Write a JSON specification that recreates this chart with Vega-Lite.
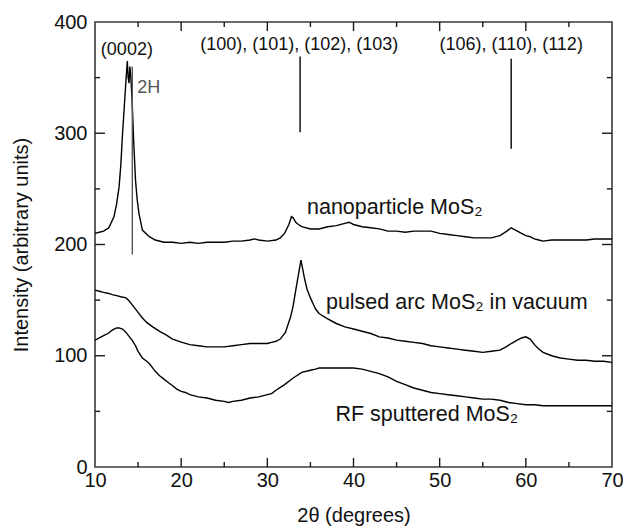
{
  "$schema": "https://vega.github.io/schema/vega-lite/v6.json",
  "width": 517,
  "height": 445,
  "autosize": {"type": "none"},
  "padding": {"left": 95, "top": 22, "right": 11, "bottom": 61},
  "config": {
    "font": "Liberation Sans",
    "view": {"stroke": "#3a3a3a", "strokeWidth": 1.6},
    "axis": {
      "grid": false,
      "domain": false,
      "ticks": false,
      "labelFontSize": 20,
      "labelColor": "#111",
      "titleFontSize": 20,
      "titleFontWeight": "normal",
      "titleColor": "#111",
      "labelFont": "Liberation Sans",
      "titleFont": "Liberation Sans"
    }
  },
  "datasets": {
    "curves": [
      {"s":"N","t":10,"I":210},{"s":"N","t":10.5,"I":211},{"s":"N","t":11,"I":212},{"s":"N","t":11.6,"I":215},{"s":"N","t":12.2,"I":225},{"s":"N","t":12.5,"I":236},{"s":"N","t":12.8,"I":252},{"s":"N","t":13.0,"I":272},{"s":"N","t":13.2,"I":300},{"s":"N","t":13.4,"I":324},{"s":"N","t":13.6,"I":348},{"s":"N","t":13.75,"I":365},{"s":"N","t":13.85,"I":350},{"s":"N","t":13.95,"I":345},{"s":"N","t":14.05,"I":360},{"s":"N","t":14.15,"I":352},{"s":"N","t":14.3,"I":330},{"s":"N","t":14.5,"I":291},{"s":"N","t":14.7,"I":258},{"s":"N","t":14.9,"I":240},{"s":"N","t":15.1,"I":228},{"s":"N","t":15.5,"I":213},{"s":"N","t":16.3,"I":207},{"s":"N","t":17,"I":204},{"s":"N","t":18,"I":202},{"s":"N","t":19,"I":202},{"s":"N","t":20,"I":201},{"s":"N","t":21,"I":202},{"s":"N","t":22,"I":201},{"s":"N","t":23,"I":202},{"s":"N","t":24,"I":202},{"s":"N","t":25,"I":202},{"s":"N","t":26,"I":203},{"s":"N","t":27,"I":203},{"s":"N","t":28,"I":204},{"s":"N","t":28.5,"I":205},{"s":"N","t":29,"I":204},{"s":"N","t":30,"I":203},{"s":"N","t":31,"I":204},{"s":"N","t":31.5,"I":206},{"s":"N","t":32,"I":210},{"s":"N","t":32.5,"I":218},{"s":"N","t":32.8,"I":225},{"s":"N","t":33.0,"I":224},{"s":"N","t":33.3,"I":220},{"s":"N","t":33.6,"I":218},{"s":"N","t":34,"I":216},{"s":"N","t":35,"I":214},{"s":"N","t":36,"I":214},{"s":"N","t":37,"I":216},{"s":"N","t":38,"I":217},{"s":"N","t":39,"I":219},{"s":"N","t":39.5,"I":220},{"s":"N","t":40,"I":218},{"s":"N","t":41,"I":216},{"s":"N","t":42,"I":215},{"s":"N","t":43,"I":214},{"s":"N","t":44,"I":212},{"s":"N","t":45,"I":212},{"s":"N","t":46,"I":211},{"s":"N","t":47,"I":212},{"s":"N","t":48,"I":212},{"s":"N","t":49,"I":212},{"s":"N","t":50,"I":210},{"s":"N","t":51,"I":209},{"s":"N","t":52,"I":208},{"s":"N","t":53,"I":207},{"s":"N","t":54,"I":206},{"s":"N","t":55,"I":206},{"s":"N","t":56,"I":206},{"s":"N","t":57,"I":208},{"s":"N","t":57.8,"I":212},{"s":"N","t":58.3,"I":215},{"s":"N","t":58.8,"I":213},{"s":"N","t":59.5,"I":210},{"s":"N","t":60,"I":208},{"s":"N","t":60.5,"I":207},{"s":"N","t":61,"I":205},{"s":"N","t":61.5,"I":204},{"s":"N","t":62,"I":203},{"s":"N","t":63,"I":204},{"s":"N","t":64,"I":204},{"s":"N","t":65,"I":204},{"s":"N","t":66,"I":204},{"s":"N","t":67,"I":204},{"s":"N","t":68,"I":205},{"s":"N","t":69,"I":205},{"s":"N","t":70,"I":205},
      {"s":"P","t":10,"I":159},{"s":"P","t":10.5,"I":158},{"s":"P","t":11,"I":157},{"s":"P","t":11.6,"I":156},{"s":"P","t":12,"I":155},{"s":"P","t":12.5,"I":154},{"s":"P","t":13,"I":153},{"s":"P","t":13.6,"I":152},{"s":"P","t":14,"I":149},{"s":"P","t":14.3,"I":146},{"s":"P","t":15,"I":139},{"s":"P","t":15.5,"I":134},{"s":"P","t":16,"I":130},{"s":"P","t":16.7,"I":126},{"s":"P","t":17.5,"I":122},{"s":"P","t":18.2,"I":119},{"s":"P","t":19,"I":115},{"s":"P","t":20.1,"I":112},{"s":"P","t":21,"I":110},{"s":"P","t":22,"I":109},{"s":"P","t":23,"I":108},{"s":"P","t":24,"I":108},{"s":"P","t":25,"I":108},{"s":"P","t":26,"I":109},{"s":"P","t":27,"I":110},{"s":"P","t":28,"I":111},{"s":"P","t":29,"I":111},{"s":"P","t":30,"I":111},{"s":"P","t":30.5,"I":112},{"s":"P","t":31,"I":113},{"s":"P","t":31.5,"I":115},{"s":"P","t":32.1,"I":121},{"s":"P","t":32.7,"I":135},{"s":"P","t":33.0,"I":145},{"s":"P","t":33.3,"I":159},{"s":"P","t":33.5,"I":168},{"s":"P","t":33.7,"I":177},{"s":"P","t":33.9,"I":186},{"s":"P","t":34.1,"I":178},{"s":"P","t":34.3,"I":170},{"s":"P","t":34.6,"I":160},{"s":"P","t":35,"I":152},{"s":"P","t":35.3,"I":147},{"s":"P","t":35.6,"I":142},{"s":"P","t":36,"I":138},{"s":"P","t":36.8,"I":134},{"s":"P","t":38,"I":129},{"s":"P","t":39,"I":126},{"s":"P","t":40,"I":124},{"s":"P","t":41,"I":122},{"s":"P","t":42,"I":120},{"s":"P","t":43,"I":117},{"s":"P","t":44,"I":116},{"s":"P","t":45,"I":114},{"s":"P","t":46,"I":113},{"s":"P","t":47,"I":112},{"s":"P","t":48,"I":111},{"s":"P","t":49,"I":109},{"s":"P","t":50,"I":108},{"s":"P","t":51,"I":107},{"s":"P","t":52,"I":106},{"s":"P","t":53,"I":105},{"s":"P","t":54,"I":104},{"s":"P","t":55,"I":103},{"s":"P","t":56,"I":104},{"s":"P","t":57,"I":105},{"s":"P","t":57.7,"I":108},{"s":"P","t":58.3,"I":111},{"s":"P","t":59,"I":114},{"s":"P","t":59.5,"I":116},{"s":"P","t":60,"I":117},{"s":"P","t":60.5,"I":115},{"s":"P","t":61,"I":110},{"s":"P","t":61.5,"I":106},{"s":"P","t":62,"I":103},{"s":"P","t":63,"I":100},{"s":"P","t":64,"I":98},{"s":"P","t":65,"I":97},{"s":"P","t":66,"I":96},{"s":"P","t":67,"I":96},{"s":"P","t":68,"I":95},{"s":"P","t":69,"I":95},{"s":"P","t":70,"I":94},
      {"s":"R","t":10,"I":114},{"s":"R","t":10.5,"I":116},{"s":"R","t":11,"I":118},{"s":"R","t":11.5,"I":120},{"s":"R","t":12,"I":123},{"s":"R","t":12.5,"I":125},{"s":"R","t":12.8,"I":125},{"s":"R","t":13.2,"I":124},{"s":"R","t":13.6,"I":121},{"s":"R","t":14,"I":117},{"s":"R","t":14.3,"I":114},{"s":"R","t":14.7,"I":109},{"s":"R","t":15,"I":104},{"s":"R","t":15.5,"I":98},{"s":"R","t":16,"I":95},{"s":"R","t":16.3,"I":93},{"s":"R","t":17,"I":86},{"s":"R","t":17.5,"I":82},{"s":"R","t":18,"I":79},{"s":"R","t":18.5,"I":76},{"s":"R","t":19,"I":73},{"s":"R","t":19.5,"I":70},{"s":"R","t":20,"I":68},{"s":"R","t":20.5,"I":67},{"s":"R","t":21,"I":65},{"s":"R","t":22,"I":63},{"s":"R","t":23,"I":62},{"s":"R","t":24,"I":60},{"s":"R","t":25,"I":59},{"s":"R","t":25.5,"I":58},{"s":"R","t":26,"I":59},{"s":"R","t":27,"I":60},{"s":"R","t":28,"I":62},{"s":"R","t":29,"I":63},{"s":"R","t":30,"I":65},{"s":"R","t":30.5,"I":66},{"s":"R","t":31,"I":69},{"s":"R","t":32,"I":74},{"s":"R","t":33,"I":80},{"s":"R","t":34,"I":85},{"s":"R","t":35,"I":87},{"s":"R","t":35.6,"I":88},{"s":"R","t":36,"I":89},{"s":"R","t":37,"I":89},{"s":"R","t":38,"I":89},{"s":"R","t":39,"I":89},{"s":"R","t":40,"I":89},{"s":"R","t":41,"I":88},{"s":"R","t":42,"I":86},{"s":"R","t":43,"I":84},{"s":"R","t":44,"I":81},{"s":"R","t":45,"I":77},{"s":"R","t":46,"I":74},{"s":"R","t":47,"I":71},{"s":"R","t":48,"I":69},{"s":"R","t":49,"I":67},{"s":"R","t":50,"I":66},{"s":"R","t":51,"I":65},{"s":"R","t":52,"I":64},{"s":"R","t":53,"I":63},{"s":"R","t":54,"I":62},{"s":"R","t":55,"I":61},{"s":"R","t":56,"I":61},{"s":"R","t":57,"I":60},{"s":"R","t":58,"I":58},{"s":"R","t":59,"I":57},{"s":"R","t":60,"I":56},{"s":"R","t":61,"I":56},{"s":"R","t":62,"I":55},{"s":"R","t":63,"I":55},{"s":"R","t":64,"I":55},{"s":"R","t":65,"I":55},{"s":"R","t":66,"I":55},{"s":"R","t":67,"I":55},{"s":"R","t":68,"I":55},{"s":"R","t":69,"I":55},{"s":"R","t":70,"I":55}
    ],
    "rule2h": [
      {"t": 14.33, "y1": 191, "y2": 360}
    ],
    "rules": [
      {"t": 33.8, "y1": 301, "y2": 369},
      {"t": 58.3, "y1": 286, "y2": 367}
    ],
    "hkl": [
      {"t": 13.7, "I": 375, "label": "(0002)"},
      {"t": 33.7, "I": 379, "label": "(100), (101), (102), (103)"},
      {"t": 58.3, "I": 379, "label": "(106), (110), (112)"}
    ],
    "tag": [
      {"t": 14.9, "I": 341, "label": "2H"}
    ],
    "names": [
      {"t": 34.6, "I": 233, "label": "nanoparticle MoS₂"},
      {"t": 36.8, "I": 147, "label": "pulsed arc MoS₂ in vacuum"},
      {"t": 37.9, "I": 47, "label": "RF sputtered MoS₂"}
    ],
    "xmaj": [{"v":20},{"v":30},{"v":40},{"v":50},{"v":60}],
    "xmin": [{"v":15},{"v":25},{"v":35},{"v":45},{"v":55},{"v":65}],
    "ymaj": [{"v":100},{"v":200},{"v":300}],
    "ymin": [{"v":50},{"v":150},{"v":250},{"v":350}]
  },
  "layer": [
    {
      "data": {"name": "curves"},
      "mark": {"type": "line", "color": "#000", "strokeWidth": 1.4, "clip": true},
      "encoding": {
        "x": {
          "field": "t", "type": "quantitative",
          "scale": {"domain": [10, 70], "nice": false, "zero": false},
          "axis": {
            "orient": "bottom",
            "title": "2θ (degrees)",
            "values": [10, 20, 30, 40, 50, 60, 70],
            "labelPadding": 3,
            "titlePadding": 15,
            "labelFlush": false
          }
        },
        "y": {
          "field": "I", "type": "quantitative",
          "scale": {"domain": [0, 400], "nice": false},
          "axis": {
            "orient": "left",
            "title": "Intensity (arbitrary units)",
            "values": [0, 100, 200, 300, 400],
            "labelPadding": 8,
            "titlePadding": 22,
            "labelFlush": false
          }
        },
        "detail": {"field": "s"}
      }
    },
    {
      "data": {"name": "xmaj"},
      "mark": {"type": "rule", "color": "#1a1a1a", "strokeWidth": 1.4},
      "encoding": {"x": {"field": "v", "type": "quantitative"}, "y": {"datum": 0, "type": "quantitative"}, "y2": {"datum": 8.2}}
    },
    {
      "data": {"name": "xmin"},
      "mark": {"type": "rule", "color": "#1a1a1a", "strokeWidth": 1.4},
      "encoding": {"x": {"field": "v", "type": "quantitative"}, "y": {"datum": 0, "type": "quantitative"}, "y2": {"datum": 4.5}}
    },
    {
      "data": {"name": "xmaj"},
      "mark": {"type": "rule", "color": "#1a1a1a", "strokeWidth": 1.4},
      "encoding": {"x": {"field": "v", "type": "quantitative"}, "y": {"datum": 400, "type": "quantitative"}, "y2": {"datum": 391.8}}
    },
    {
      "data": {"name": "xmin"},
      "mark": {"type": "rule", "color": "#1a1a1a", "strokeWidth": 1.4},
      "encoding": {"x": {"field": "v", "type": "quantitative"}, "y": {"datum": 400, "type": "quantitative"}, "y2": {"datum": 395.5}}
    },
    {
      "data": {"name": "ymaj"},
      "mark": {"type": "rule", "color": "#1a1a1a", "strokeWidth": 1.4},
      "encoding": {"y": {"field": "v", "type": "quantitative"}, "x": {"datum": 10, "type": "quantitative"}, "x2": {"datum": 11.16}}
    },
    {
      "data": {"name": "ymin"},
      "mark": {"type": "rule", "color": "#1a1a1a", "strokeWidth": 1.4},
      "encoding": {"y": {"field": "v", "type": "quantitative"}, "x": {"datum": 10, "type": "quantitative"}, "x2": {"datum": 10.6}}
    },
    {
      "data": {"name": "ymaj"},
      "mark": {"type": "rule", "color": "#1a1a1a", "strokeWidth": 1.4},
      "encoding": {"y": {"field": "v", "type": "quantitative"}, "x": {"datum": 70, "type": "quantitative"}, "x2": {"datum": 68.84}}
    },
    {
      "data": {"name": "ymin"},
      "mark": {"type": "rule", "color": "#1a1a1a", "strokeWidth": 1.4},
      "encoding": {"y": {"field": "v", "type": "quantitative"}, "x": {"datum": 70, "type": "quantitative"}, "x2": {"datum": 69.4}}
    },
    {
      "data": {"name": "rule2h"},
      "mark": {"type": "rule", "strokeWidth": 1.4, "color": "#555"},
      "encoding": {
        "x": {"field": "t", "type": "quantitative"},
        "y": {"field": "y1", "type": "quantitative"},
        "y2": {"field": "y2"}
      }
    },
    {
      "data": {"name": "rules"},
      "mark": {"type": "rule", "strokeWidth": 1.4, "color": "#000"},
      "encoding": {
        "x": {"field": "t", "type": "quantitative"},
        "y": {"field": "y1", "type": "quantitative"},
        "y2": {"field": "y2"}
      }
    },
    {
      "data": {"name": "hkl"},
      "mark": {"type": "text", "fontSize": 18, "align": "center", "baseline": "middle", "color": "#111"},
      "encoding": {
        "x": {"field": "t", "type": "quantitative"},
        "y": {"field": "I", "type": "quantitative"},
        "text": {"field": "label"}
      }
    },
    {
      "data": {"name": "tag"},
      "mark": {"type": "text", "fontSize": 18, "align": "left", "baseline": "middle", "color": "#555"},
      "encoding": {
        "x": {"field": "t", "type": "quantitative"},
        "y": {"field": "I", "type": "quantitative"},
        "text": {"field": "label"}
      }
    },
    {
      "data": {"name": "names"},
      "mark": {"type": "text", "fontSize": 21.5, "align": "left", "baseline": "middle", "color": "#111"},
      "encoding": {
        "x": {"field": "t", "type": "quantitative"},
        "y": {"field": "I", "type": "quantitative"},
        "text": {"field": "label"}
      }
    }
  ]
}
